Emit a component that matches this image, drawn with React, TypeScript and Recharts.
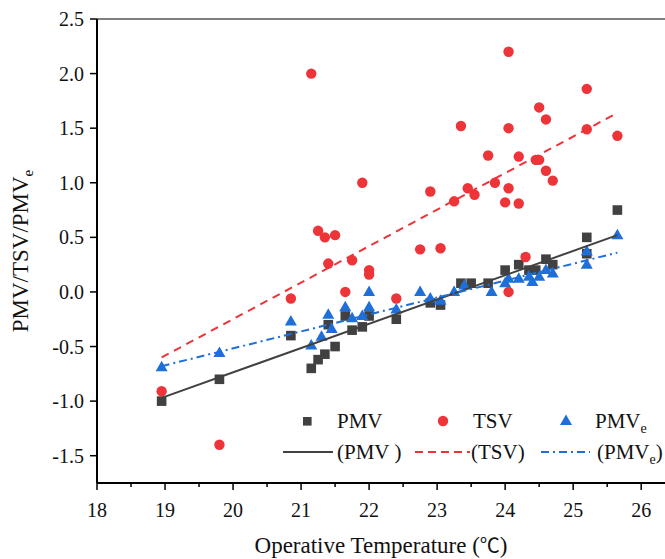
import {
  ScatterChart,
  Scatter,
  XAxis,
  YAxis,
  ReferenceLine,
  Legend,
} from 'recharts';

// operative temperature (°C) and votes
const pmvX = [18.95, 19.8, 20.85, 21.15, 21.25, 21.35, 21.5, 21.4, 21.65, 21.75, 21.9, 22.0, 22.4, 22.9, 23.05, 23.35, 23.5, 23.75, 24.0, 24.2, 24.35, 24.45, 24.6, 24.7, 25.2, 25.2, 25.65];
const pmvY = [-1.0, -0.8, -0.4, -0.7, -0.62, -0.57, -0.5, -0.3, -0.22, -0.35, -0.32, -0.22, -0.25, -0.1, -0.12, 0.08, 0.08, 0.08, 0.2, 0.25, 0.2, 0.2, 0.3, 0.25, 0.5, 0.35, 0.75];

const tsvX = [18.95, 19.8, 20.85, 21.15, 21.25, 21.35, 21.5, 21.4, 21.65, 21.75, 21.9, 22.0, 22.0, 22.4, 22.75, 22.9, 23.05, 23.25, 23.35, 23.45, 23.55, 23.75, 23.85, 24.0, 24.05, 24.05, 24.05, 24.05, 24.2, 24.2, 24.3, 24.45, 24.5, 24.5, 24.6, 24.6, 24.7, 25.2, 25.2, 25.65];
const tsvY = [-0.91, -1.4, -0.06, 2.0, 0.56, 0.5, 0.52, 0.26, 0.0, 0.29, 1.0, 0.2, 0.16, -0.06, 0.39, 0.92, 0.4, 0.83, 1.52, 0.95, 0.89, 1.25, 1.0, 0.82, 0.95, 1.5, 2.2, 0.0, 0.81, 1.24, 0.32, 1.21, 1.21, 1.69, 1.58, 1.11, 1.02, 1.86, 1.49, 1.43];

const pmveX = [18.95, 19.8, 20.85, 21.15, 21.3, 21.4, 21.45, 21.65, 21.75, 21.9, 22.0, 22.0, 22.4, 22.75, 22.9, 23.05, 23.25, 23.4, 23.8, 24.0, 24.05, 24.2, 24.35, 24.4, 24.5, 24.6, 24.7, 25.2, 25.2, 25.65];
const pmveY = [-0.69, -0.56, -0.27, -0.49, -0.41, -0.21, -0.34, -0.14, -0.24, -0.22, -0.14, 0.0, -0.16, 0.0, -0.06, -0.08, 0.0, 0.06, 0.0, 0.08, 0.12, 0.12, 0.14, 0.09, 0.14, 0.2, 0.17, 0.25, 0.37, 0.52];

// fitted lines, endpoints
const fitX = [18.95, 25.65];
const pmvFitY = [-0.97, 0.52];
const tsvFitY = [-0.6, 1.64];
const pmveFitY = [-0.68, 0.36];

const xTicks = [18, 18.5, 19, 19.5, 20, 20.5, 21, 21.5, 22, 22.5, 23, 23.5, 24, 24.5, 25, 25.5, 26];
const yTicks = [-1.5, -1.0, -0.5, 0.0, 0.5, 1.0, 1.5, 2.0, 2.5];

const zip = (xs: number[], ys: number[]) => xs.map((x, i) => ({ x, y: ys[i] }));

const pmvData = zip(pmvX, pmvY);
const tsvData = zip(tsvX, tsvY);
const pmveData = zip(pmveX, pmveY);
const pmvFit = zip(fitX, pmvFitY);
const tsvFit = zip(fitX, tsvFitY);
const pmveFit = zip(fitX, pmveFitY);

const FONT = '"Liberation Serif", "Times New Roman", serif';
const CJK = '"Noto Sans CJK SC", sans-serif';
const GREY = '#414141';
const RED = '#ec3439';
const BLUE = '#1f6fd8';
const TICK_SIZE = 8;
const TICK_MARGIN = 2;

const Square = (p: any) => <rect x={p.cx - 4.8} y={p.cy - 4.8} width={9.6} height={9.6} fill={GREY} />;
const Dot = (p: any) => <circle cx={p.cx} cy={p.cy} r={5.2} fill={RED} />;
const Tri = (p: any) => (
  <polygon points={`${p.cx},${p.cy - 6.5} ${p.cx - 6},${p.cy + 4} ${p.cx + 6},${p.cy + 4}`} fill={BLUE} />
);
const NoShape = () => <g />;

const XTick = (props: any) => {
  const { x, y, payload } = props;
  const major = Number.isInteger(payload.value);
  const axisY = y - TICK_SIZE - TICK_MARGIN;
  return (
    <g>
      <line x1={x} x2={x} y1={axisY} y2={axisY + (major ? 7 : 4)} stroke="#000" strokeWidth={1.5} />
      {major && (
        <text x={x} y={axisY + 34} textAnchor="middle" fontFamily={FONT} fontSize={20} fill="#111">
          {payload.value}
        </text>
      )}
    </g>
  );
};

const YTick = (props: any) => {
  const { x, y, payload } = props;
  return (
    <text x={x} y={y} dy={7} textAnchor="end" fontFamily={FONT} fontSize={20} fill="#111">
      {payload.value.toFixed(1)}
    </text>
  );
};

const YTitle = (props: any) => {
  const vb = props.viewBox;
  const cx = vb.x + 28;
  const cy = vb.y + vb.height / 2;
  return (
    <text x={cx} y={cy} transform={`rotate(-90 ${cx} ${cy})`} textAnchor="middle" fontFamily={FONT} fontSize={23} fill="#111">
      PMV/TSV/PMV<tspan dy={5} fontSize={15}>e</tspan>
    </text>
  );
};

const XTitle = (props: any) => {
  const vb = props.viewBox;
  return (
    <text x={vb.x + vb.width / 2} y={vb.y + 70} textAnchor="middle" fontFamily={FONT} fontSize={23} fill="#111">
      Operative Temperature (<tspan fontFamily={CJK} fontSize={20}>℃</tspan>)
    </text>
  );
};

const LegendBox = () => {
  const txt = { fontFamily: FONT, fontSize: 21, fill: '#111' };
  return (
    <svg width={395} height={70} style={{ display: 'block' }}>
      <rect x={33} y={17} width={8.6} height={8.6} fill={GREY} />
      <text x={67} y={28} {...txt}>PMV</text>
      <circle cx={173} cy={21} r={5.2} fill={RED} />
      <text x={203} y={28} {...txt}>TSV</text>
      <polygon points="296,14.5 290,25 302,25" fill={BLUE} />
      <text x={325} y={28} {...txt}>PMV<tspan dy={5} fontSize={14}>e</tspan></text>

      <line x1={13} x2={63} y1={52} y2={52} stroke={GREY} strokeWidth={2} />
      <text x={67} y={59} {...txt}>(PMV )</text>
      <line x1={145} x2={200} y1={52} y2={52} stroke={RED} strokeWidth={2} strokeDasharray="8 5" />
      <text x={201} y={59} {...txt}>(TSV)</text>
      <line x1={271} x2={320} y1={52} y2={52} stroke={BLUE} strokeWidth={2} strokeDasharray="8 4 2 4" />
      <text x={327} y={59} {...txt}>(PMV<tspan dy={5} fontSize={14}>e</tspan><tspan dy={-5}>)</tspan></text>
    </svg>
  );
};

export default function App() {
  return (
    <div style={{ width: 665, height: 559, background: '#fff', position: 'relative' }}>
      <style>{'body{margin:0}'}</style>
      <ScatterChart width={665} height={559} margin={{ top: 19, right: 0, bottom: 0, left: 0 }}>
        <XAxis
          type="number"
          dataKey="x"
          domain={[18, 26.35]}
          allowDataOverflow
          ticks={xTicks}
          interval={0}
          height={76}
          tickSize={TICK_SIZE}
          tickMargin={TICK_MARGIN}
          tickLine={false}
          tick={<XTick />}
          axisLine={{ stroke: '#000', strokeWidth: 2 }}
          label={{ content: <XTitle /> }}
        />
        <YAxis
          type="number"
          dataKey="y"
          domain={[-1.75, 2.5]}
          allowDataOverflow
          ticks={yTicks}
          interval={0}
          width={97}
          tickSize={7}
          tickMargin={6}
          tickLine={{ stroke: '#000', strokeWidth: 1.5 }}
          tick={<YTick />}
          axisLine={{ stroke: '#000', strokeWidth: 2 }}
          label={{ content: <YTitle /> }}
        />
        <ReferenceLine y={2.5} stroke="#555" strokeWidth={1.5} />
        <Scatter data={pmvData} shape={<Square />} isAnimationActive={false} />
        <Scatter data={pmveData} shape={<Tri />} isAnimationActive={false} />
        <Scatter data={tsvData} shape={<Dot />} isAnimationActive={false} />
        <Scatter data={pmvFit} shape={<NoShape />} line={{ stroke: GREY, strokeWidth: 2 }} isAnimationActive={false} />
        <Scatter data={tsvFit} shape={<NoShape />} line={{ stroke: RED, strokeWidth: 2, strokeDasharray: '8 6' }} isAnimationActive={false} />
        <Scatter data={pmveFit} shape={<NoShape />} line={{ stroke: BLUE, strokeWidth: 2, strokeDasharray: '8 4 2 4' }} isAnimationActive={false} />
        <Legend
          layout="horizontal"
          verticalAlign="middle"
          align="center"
          content={<LegendBox />}
          wrapperStyle={{ position: 'absolute', left: 270, top: 400, width: 395, height: 70 }}
        />
      </ScatterChart>
    </div>
  );
}
